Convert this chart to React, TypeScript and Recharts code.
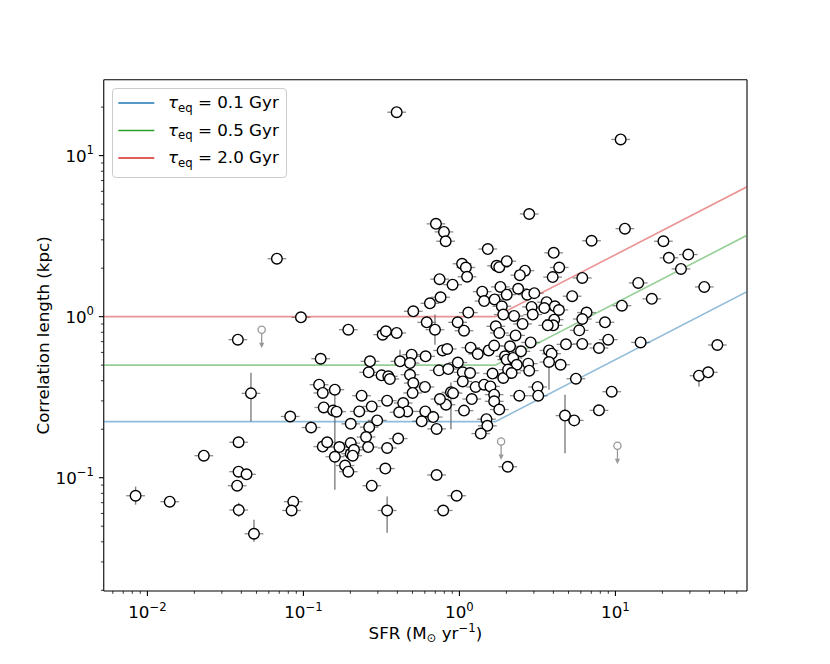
import React from 'react';
import { ScatterChart, Scatter, XAxis, YAxis, ErrorBar, Legend } from 'recharts';

const FONT = '"DejaVu Sans", sans-serif';
const FS = 16.7;

const X_DOMAIN: [number, number] = [0.00525, 69.7];
const Y_DOMAIN: [number, number] = [0.0198, 29.6];

const xTicks = [
  0.006, 0.007, 0.008, 0.009, 0.01, 0.02, 0.03, 0.04, 0.05, 0.06, 0.07, 0.08, 0.09,
  0.1, 0.2, 0.3, 0.4, 0.5, 0.6, 0.7, 0.8, 0.9, 1, 2, 3, 4, 5, 6, 7, 8, 9, 10, 20, 30, 40, 50, 60,
];
const yTicks = [
  0.02, 0.03, 0.04, 0.05, 0.06, 0.07, 0.08, 0.09, 0.1, 0.2, 0.3, 0.4, 0.5, 0.6, 0.7, 0.8, 0.9,
  1, 2, 3, 4, 5, 6, 7, 8, 9, 10, 20,
];

// Galaxies: SFR (Msun/yr) and correlation length (kpc)
const galaxySfr = [
  0.0084, 0.0139, 0.023, 0.038, 0.0384, 0.0384, 0.0432, 0.0376, 0.0385, 0.0482,
  0.0461, 0.0676, 0.0964, 0.0823, 0.0861, 0.084, 0.112, 0.129, 0.126, 0.133,
  0.159, 0.135, 0.155, 0.163, 0.133, 0.142, 0.17, 0.159, 0.185, 0.194,
  0.201, 0.201, 0.201, 0.194, 0.707, 0.796, 0.816, 1.52, 1.04, 1.1,
  1.12, 1.73, 1.8, 2.01, 0.746, 0.904, 1.4, 1.44, 1.83, 1.68,
  1.87, 1.91, 0.757, 0.647, 0.506, 1.14, 0.322, 0.338, 0.396, 0.617,
  0.697, 0.974, 1.07, 1.71, 1.8, 0.267, 0.416, 0.494, 0.482, 0.607,
  0.78, 0.835, 1.18, 1.31, 1.54, 1.67, 1.96, 2.01, 0.977, 0.482,
  0.262, 0.317, 0.35, 0.358, 0.506, 0.601, 0.501, 0.739, 0.848, 1.05,
  1.17, 1.05, 1.63, 1.91, 1.27, 1.44, 1.58, 0.882, 0.91, 0.82,
  0.75, 1.2, 1.67, 1.67, 1.8, 1.07, 0.344, 0.436, 0.463, 0.411,
  0.604, 0.573, 0.679, 0.714, 0.236, 0.274, 0.228, 0.297, 0.264, 0.252,
  0.211, 0.207, 0.26, 0.344, 0.405, 0.335, 0.274, 0.344, 0.714, 0.96,
  0.787, 1.49, 1.51, 1.37, 2.04, 2.8, 11.5, 7.03, 4.02, 4.36,
  2.63, 2.44, 3.96, 6.13, 14.0, 2.01, 2.38, 2.72, 3.02, 5.28,
  3.62, 3.5, 4.09, 4.34, 2.9, 2.95, 2.24, 11.0, 6.53, 6.13,
  4.05, 3.99, 3.68, 2.54, 8.57, 2.29, 5.86, 8.99, 7.84, 6.13,
  4.82, 2.86, 2.11, 14.5, 2.21, 2.48, 3.75, 3.9, 3.75, 4.45,
  2.33, 2.76, 2.8, 2.05, 2.16, 5.58, 3.17, 3.2, 2.42, 9.46,
  7.84, 4.75, 5.44, 10.8, 20.3, 22.0, 29.3, 26.3, 37.1, 17.1,
  45.0, 34.3, 39.3, 0.396,
];
const galaxyCorr = [
  0.0773, 0.071, 0.137, 0.72, 0.166, 0.109, 0.105, 0.0892, 0.063, 0.0449,
  0.334, 2.29, 0.99, 0.24, 0.071, 0.0626, 0.205, 0.548, 0.378, 0.336,
  0.352, 0.273, 0.261, 0.257, 0.156, 0.166, 0.155, 0.135, 0.119, 0.109,
  0.164, 0.141, 0.216, 0.83, 3.77, 3.36, 2.94, 2.63, 2.13, 2.02,
  1.77, 2.07, 2.03, 2.21, 1.71, 1.58, 1.43, 1.25, 1.53, 1.28,
  1.16, 1.03, 1.32, 1.21, 1.08, 1.06, 0.773, 0.811, 0.792, 0.922,
  0.83, 0.922, 0.818, 0.871, 0.792, 0.528, 0.528, 0.581, 0.515, 0.567,
  0.617, 0.63, 0.642, 0.586, 0.617, 0.661, 0.567, 0.541, 0.519, 0.436,
  0.451, 0.432, 0.426, 0.41, 0.387, 0.366, 0.336, 0.464, 0.473, 0.451,
  0.447, 0.396, 0.443, 0.416, 0.366, 0.378, 0.369, 0.339, 0.335, 0.284,
  0.308, 0.308, 0.328, 0.298, 0.265, 0.261, 0.301, 0.291, 0.258, 0.255,
  0.258, 0.224, 0.238, 0.201, 0.323, 0.277, 0.258, 0.227, 0.206, 0.179,
  0.149, 0.137, 0.155, 0.153, 0.175, 0.114, 0.0892, 0.0626, 0.104, 0.0773,
  0.0626, 0.231, 0.21, 0.188, 0.117, 4.34, 3.52, 2.96, 2.49, 2.02,
  1.93, 1.81, 1.76, 1.74, 1.62, 1.37, 1.49, 1.37, 1.4, 1.34,
  1.23, 1.13, 1.16, 1.1, 1.15, 1.03, 1.01, 1.17, 1.06, 0.967,
  0.958, 0.883, 0.883, 0.901, 0.922, 0.765, 0.822, 0.72, 0.639, 0.677,
  0.673, 0.692, 0.654, 0.692, 0.554, 0.609, 0.617, 0.589, 0.523, 0.503,
  0.503, 0.511, 0.462, 0.469, 0.447, 0.412, 0.366, 0.323, 0.323, 0.342,
  0.262, 0.243, 0.227, 12.6, 2.94, 2.32, 2.43, 1.98, 1.53, 1.29,
  0.667, 0.43, 0.451, 18.6,
];
// relative SFR uncertainty (dex)
const SFR_ERR_DEX = 0.06;

// Galaxies with visible vertical error bars
const vErrSfr = [0.0084, 0.0482, 0.0461, 0.159, 0.697, 0.416, 0.882, 0.344, 3.75, 4.75, 34.3, 0.0385];
const vErrCorr = [0.0773, 0.0449, 0.334, 0.135, 0.83, 0.528, 0.339, 0.0626, 0.523, 0.243, 0.43, 0.063];
const vErrLow = [0.068, 0.04, 0.223, 0.0843, 0.67, 0.5, 0.2, 0.0455, 0.352, 0.142, 0.369, 0.057];
const vErrHigh = [0.088, 0.0548, 0.449, 0.328, 1.03, 0.624, 0.39, 0.0765, 0.55, 0.328, 0.46, 0.07];

// Upper limits
const limitSfr = [0.054, 1.85, 10.3];
const limitCorr = [0.83, 0.168, 0.158];

// Model curves
const modelSfr = [0.00525, 1.7, 69.7];
const modelTau01 = [0.223, 0.223, 1.43];
const modelTau05 = [0.5, 0.5, 3.2];
const modelTau20 = [1.0, 1.0, 6.4];
const tauLabels = ['0.1', '0.5', '2.0'];
const tauColors = ['#1f77b4', '#2ca02c', '#d62728'];

const galaxies = galaxySfr.map((s, i) => ({ sfr: s, corr: galaxyCorr[i] }));
const vErrPoints = vErrSfr.map((s, i) => ({ sfr: s, corr: vErrCorr[i], lo: vErrLow[i], hi: vErrHigh[i] }));
const limits = limitSfr.map((s, i) => ({ sfr: s, corr: limitCorr[i] }));
const models = [modelTau01, modelTau05, modelTau20].map((arr) =>
  modelSfr.map((s, i) => ({ sfr: s, corr: arr[i] }))
);

const isMajor = (v: number) => Math.abs(Math.log10(v) - Math.round(Math.log10(v))) < 1e-9;
const expLabel = (v: number) => {
  const e = Math.round(Math.log10(v));
  return e < 0 ? '\u2212' + Math.abs(e) : String(e);
};

function XTick(props: any) {
  const { x, y, payload } = props;
  const v = payload.value;
  const major = isMajor(v);
  return (
    <g>
      <line x1={x} x2={x} y1={y} y2={y + (major ? 4.9 : 2.8)} stroke="#000" strokeWidth={major ? 1.1 : 0.8} />
      {major && (
        <text x={x} y={y + 27} textAnchor="middle" fontFamily={FONT} fontSize={FS} fill="#000">
          10<tspan fontSize={11.7} dy={-7.5}>{expLabel(v)}</tspan>
        </text>
      )}
    </g>
  );
}

function YTick(props: any) {
  const { x, y, payload } = props;
  const v = payload.value;
  const major = isMajor(v);
  return (
    <g>
      <line x1={x - (major ? 4.9 : 2.8)} x2={x} y1={y} y2={y} stroke="#000" strokeWidth={major ? 1.1 : 0.8} />
      {major && (
        <text x={x - 9.7} y={y + 6} textAnchor="end" fontFamily={FONT} fontSize={FS} fill="#000">
          10<tspan fontSize={11.7} dy={-7.5}>{expLabel(v)}</tspan>
        </text>
      )}
    </g>
  );
}

function XTitle(props: any) {
  const vb = props.viewBox || { x: 103.75, y: 591, width: 643.25, height: 1 };
  return (
    <text x={vb.x + vb.width / 2} y={591 + 48} textAnchor="middle" fontFamily={FONT} fontSize={FS} fill="#000">
      SFR (M<tspan fontSize={11.7} dy={3}>{'\u2299'}</tspan>
      <tspan dy={-3}> yr</tspan>
      <tspan fontSize={11.7} dy={-7}>{'\u22121'}</tspan>
      <tspan dy={7}>)</tspan>
    </text>
  );
}

function YTitle(props: any) {
  const vb = props.viewBox || { x: 102.75, y: 79.7, width: 1, height: 511.3 };
  const x = 103.75 - 55;
  const y = vb.y + vb.height / 2;
  return (
    <text x={x} y={y} transform={`rotate(-90, ${x}, ${y})`} textAnchor="middle" fontFamily={FONT} fontSize={FS} fill="#000">
      Correlation length (kpc)
    </text>
  );
}

function LegendBox() {
  return (
    <svg width={176} height={91} style={{ display: 'block', overflow: 'visible' }}>
      <rect x={0.5} y={0.5} width={174} height={89} rx={3.5} fill="#fff" fillOpacity={0.8} stroke="#cccccc" strokeWidth={1} />
      {tauLabels.map((lab, i) => {
        const cy = 15 + i * 27.5;
        return (
          <g key={lab}>
            <line x1={6.3} x2={42.3} y1={cy} y2={cy} stroke={tauColors[i]} strokeWidth={1.5} />
            <text x={56} y={cy + 5} fontFamily={FONT} fontSize={FS} fill="#000">
              <tspan fontStyle="italic">{'\u03c4'}</tspan>
              <tspan fontSize={11.7} dy={3.5}>eq</tspan>
              <tspan dy={-3.5}>{` = ${lab} Gyr`}</tspan>
            </text>
          </g>
        );
      })}
    </svg>
  );
}

const EmptyShape = () => <g />;

const CircleShape = (p: any) => (
  <circle cx={p.cx} cy={p.cy} r={5.3} fill="#fff" stroke="#000" strokeWidth={1.4} />
);

const LimitShape = (p: any) => {
  const { cx, cy } = p;
  return (
    <g>
      <line x1={cx} x2={cx} y1={cy + 3.6} y2={cy + 15} stroke="#999" strokeWidth={1.3} />
      <path d={`M${cx - 2.6},${cy + 13} L${cx + 2.6},${cy + 13} L${cx},${cy + 18.5} Z`} fill="#999" />
      <circle cx={cx} cy={cy} r={3.6} fill="#fff" stroke="#999" strokeWidth={1.3} />
    </g>
  );
};

export default function App() {
  return (
    <div style={{ position: 'absolute', left: 0, top: 0, width: 830, height: 664, background: '#fff' }}>
      <ScatterChart width={830} height={664} margin={{ top: 78.7, right: 82, bottom: 72, left: 102.75 }}>
        <XAxis
          type="number"
          dataKey="sfr"
          scale="log"
          domain={X_DOMAIN}
          allowDataOverflow
          ticks={xTicks}
          interval={0}
          tick={<XTick />}
          tickLine={false}
          tickSize={0}
          tickMargin={0}
          height={1}
          axisLine={{ stroke: '#000', strokeWidth: 1.1 }}
          label={<XTitle />}
        />
        <XAxis
          xAxisId="top"
          orientation="top"
          type="number"
          scale="log"
          domain={X_DOMAIN}
          allowDataOverflow
          ticks={[1]}
          height={1}
          tick={false}
          tickLine={false}
          axisLine={{ stroke: '#000', strokeWidth: 1.1 }}
        />
        <YAxis
          type="number"
          dataKey="corr"
          scale="log"
          domain={Y_DOMAIN}
          allowDataOverflow
          ticks={yTicks}
          interval={0}
          tick={<YTick />}
          tickLine={false}
          tickSize={0}
          tickMargin={0}
          width={1}
          axisLine={{ stroke: '#000', strokeWidth: 1.1 }}
          label={<YTitle />}
        />
        <YAxis
          yAxisId="right"
          orientation="right"
          type="number"
          scale="log"
          domain={Y_DOMAIN}
          allowDataOverflow
          ticks={[1]}
          width={1}
          tick={false}
          tickLine={false}
          axisLine={{ stroke: '#000', strokeWidth: 1.1 }}
        />
        {models.map((m, i) => (
          <Scatter
            key={'model' + i}
            data={m}
            line={{ stroke: tauColors[i], strokeOpacity: 0.5, strokeWidth: 1.6 }}
            lineType="joint"
            shape={EmptyShape}
            isAnimationActive={false}
            legendType="none"
          />
        ))}
        <Scatter data={galaxies} shape={EmptyShape} isAnimationActive={false} legendType="none">
          <ErrorBar
            direction="x"
            dataKey={(d: any) => [d.sfr * (1 - Math.pow(10, -SFR_ERR_DEX)), d.sfr * (Math.pow(10, SFR_ERR_DEX) - 1)]}
            width={0}
            stroke="#8a8a8a"
            strokeWidth={1.3}
          />
        </Scatter>
        <Scatter data={vErrPoints} shape={EmptyShape} isAnimationActive={false} legendType="none">
          <ErrorBar
            direction="y"
            dataKey={(d: any) => [d.corr - d.lo, d.hi - d.corr]}
            width={0}
            stroke="#7f7f7f"
            strokeWidth={1.4}
          />
        </Scatter>
        <Scatter data={galaxies} shape={CircleShape} isAnimationActive={false} legendType="none" />
        <Scatter data={limits} shape={LimitShape} isAnimationActive={false} legendType="none" />
        <Legend
          layout="vertical"
          align="center"
          verticalAlign="middle"
          content={() => <LegendBox />}
          wrapperStyle={{ left: 112, top: 88, width: 176, height: 91 }}
        />
      </ScatterChart>
    </div>
  );
}
